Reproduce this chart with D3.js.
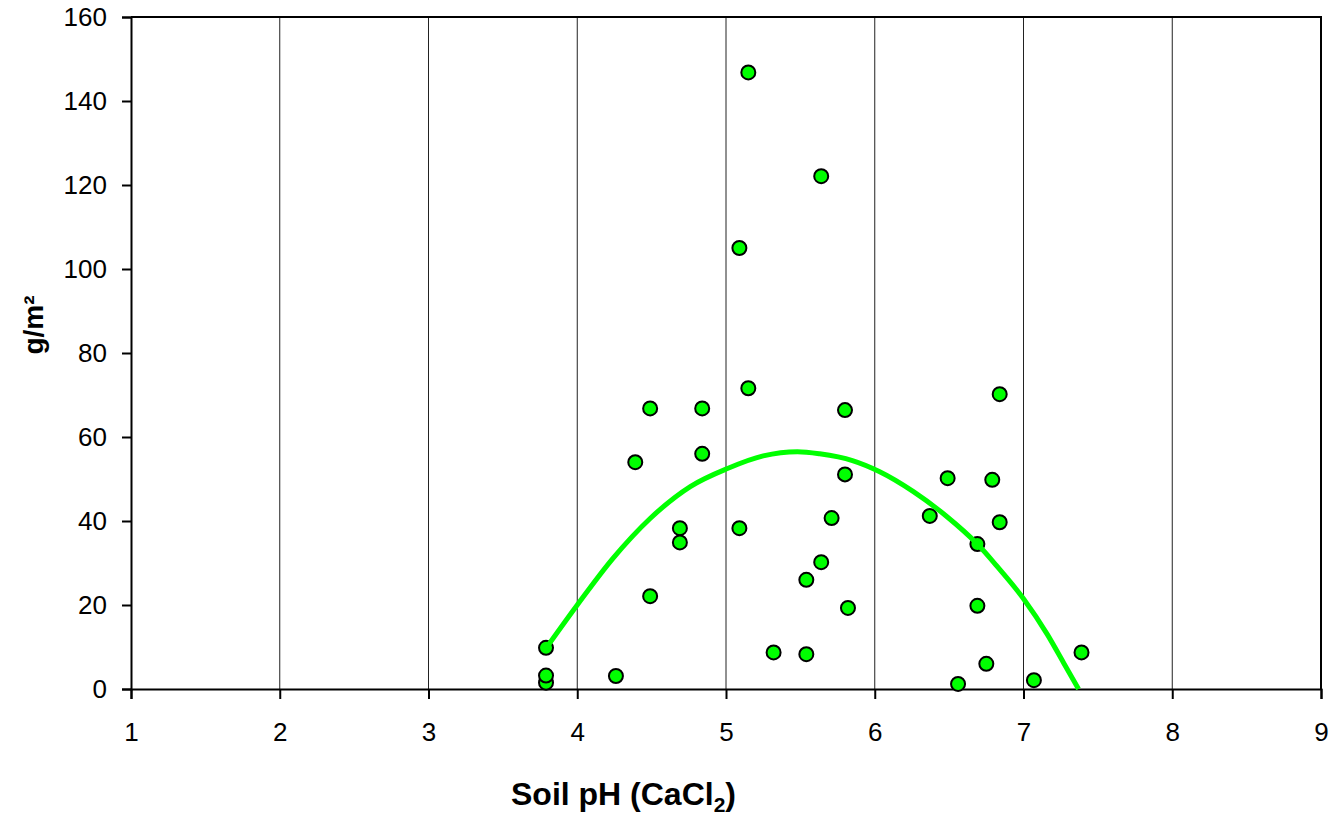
<!DOCTYPE html>
<html>
<head>
<meta charset="utf-8">
<script src="https://cdn.jsdelivr.net/npm/d3@7"></script>
<style>
  html, body { margin: 0; padding: 0; background: #fff; }
  svg { display: block; }
  text { font-family: "Liberation Sans", Arial, sans-serif; }
</style>
</head>
<body>
<svg id="chart" width="1342" height="818"></svg>
<script>
// Soil pH (CaCl2) of each sample
const soilPH = [
  3.79, 3.79, 3.79, 4.26, 4.39, 4.49, 4.49, 4.69, 4.69, 4.84,
  4.84, 5.09, 5.09, 5.15, 5.15, 5.32, 5.54, 5.54, 5.64, 5.64,
  5.71, 5.80, 5.80, 5.82, 6.37, 6.49, 6.56, 6.69, 6.69, 6.75,
  6.79, 6.84, 6.84, 7.07, 7.39
];
// Measured biomass, g/m²
const biomass = [
  1.5, 3.2, 9.8, 3.1, 54.0, 66.8, 22.1, 38.3, 34.9, 66.8,
  56.0, 105.0, 38.3, 146.8, 71.6, 8.7, 26.0, 8.3, 122.1, 30.2,
  40.7, 66.4, 51.1, 19.3, 41.2, 50.2, 1.2, 34.5, 19.8, 6.0,
  49.8, 70.2, 39.7, 2.1, 8.7
];
// Polynomial trend line, sampled along its length
const trendPH = [3.79, 4.00, 4.24, 4.49, 4.76, 5.01, 5.25, 5.48, 5.63, 5.85, 6.03, 6.26, 6.48, 6.69, 6.82, 7.00, 7.16, 7.27, 7.37];
const trendG  = [9.7, 20.0, 31.1, 40.6, 48.2, 52.5, 55.5, 56.5, 56.0, 54.4, 51.8, 47.0, 41.2, 34.5, 29.3, 21.5, 13.0, 6.2, 0.0];

const xTicks = [1, 2, 3, 4, 5, 6, 7, 8, 9];
const yTicks = [0, 20, 40, 60, 80, 100, 120, 140, 160];

const margin = { top: 17, right: 21, bottom: 129, left: 131 };
const W = 1342, H = 818;
const iw = W - margin.left - margin.right;
const ih = H - margin.top - margin.bottom;

const svg = d3.select("#chart");
const g = svg.append("g").attr("transform", `translate(${margin.left},${margin.top})`);

const x = d3.scaleLinear().domain([1, 9]).range([0, iw]);
const y = d3.scaleLinear().domain([0, 160]).range([ih, 0]);

// vertical grid lines
g.append("g")
  .selectAll("line")
  .data(xTicks.slice(1, -1))
  .join("line")
  .attr("x1", d => x(d)).attr("x2", d => x(d))
  .attr("y1", 0).attr("y2", ih)
  .attr("stroke", "#222").attr("stroke-width", 1);

// plot frame (top and right)
g.append("path")
  .attr("d", `M0,0H${iw}V${ih}`)
  .attr("fill", "none").attr("stroke", "#000").attr("stroke-width", 2);

// axes
const xAxis = g.append("g")
  .attr("transform", `translate(0,${ih})`)
  .call(d3.axisBottom(x).tickValues(xTicks).tickFormat(d3.format("d")).tickSize(10).tickPadding(24));
const yAxis = g.append("g")
  .call(d3.axisLeft(y).tickValues(yTicks).tickFormat(d3.format("d")).tickSize(9).tickPadding(15));

[xAxis, yAxis].forEach(a => {
  a.select(".domain").attr("stroke", "#000").attr("stroke-width", 2);
  a.selectAll(".tick line").attr("stroke", "#000").attr("stroke-width", 2);
  a.selectAll(".tick text")
    .attr("fill", "#000")
    .style("font-size", "26px")
    .style("font-family", "'Liberation Sans', Arial, sans-serif");
});

// data points
const pts = soilPH.map((v, i) => ({ ph: v, val: biomass[i] }));
g.append("g")
  .selectAll("circle")
  .data(pts)
  .join("circle")
  .attr("cx", d => x(d.ph))
  .attr("cy", d => y(d.val))
  .attr("r", 7)
  .attr("fill", "#00ff00")
  .attr("stroke", "#000")
  .attr("stroke-width", 2);

// trend line
const trend = trendPH.map((v, i) => ({ ph: v, val: trendG[i] }));
g.append("path")
  .datum(trend)
  .attr("fill", "none")
  .attr("stroke", "#00ff00")
  .attr("stroke-width", 5)
  .attr("stroke-linecap", "butt")
  .attr("stroke-linejoin", "round")
  .attr("d", d3.line().x(d => x(d.ph)).y(d => y(d.val)).curve(d3.curveMonotoneX));

// axis titles
const xt = svg.append("text")
  .attr("x", 623.5)
  .attr("y", 805)
  .attr("text-anchor", "middle")
  .style("font-size", "32px")
  .style("font-weight", "bold")
  .attr("fill", "#000");
xt.append("tspan").text("Soil pH (CaCl");
xt.append("tspan").attr("dy", 7).style("font-size", "21px").text("2");
xt.append("tspan").attr("dy", -7).text(")");

svg.append("text")
  .attr("transform", `translate(43,325) rotate(-90)`)
  .attr("text-anchor", "middle")
  .style("font-size", "28px")
  .style("font-weight", "bold")
  .attr("fill", "#000")
  .text("g/m²");
</script>
</body>
</html>
